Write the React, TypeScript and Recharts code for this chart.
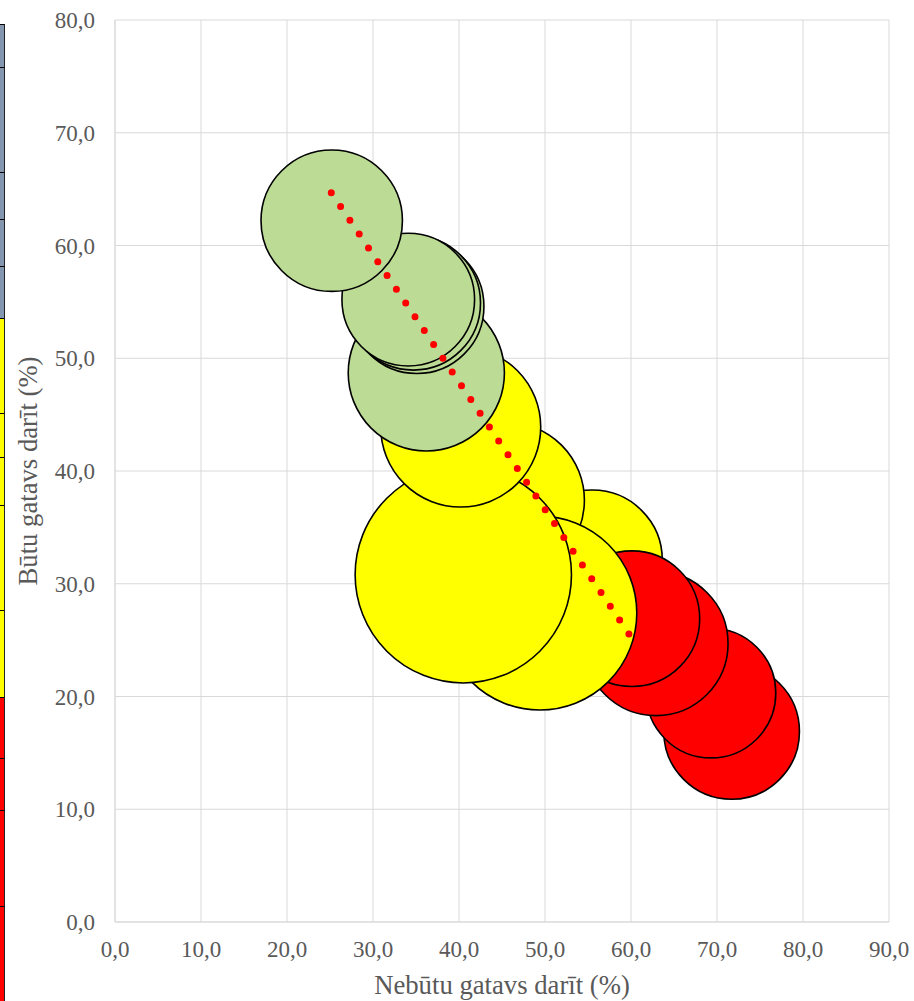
import React from 'react';
import {
  ScatterChart,
  Scatter,
  XAxis,
  YAxis,
  ZAxis,
  CartesianGrid,
  Cell,
} from 'recharts';

// ---- data ----
// draw order: first = bottom, last = on top
const pointX = [71.7, 69.3, 62.9, 55.5, 60.1, 45.5, 49.4, 40.5, 40.2, 36.2, 35.1, 34.7, 34.1, 25.2];
const pointY = [16.9, 20.3, 24.7, 32.1, 26.9, 37.4, 27.4, 30.8, 43.9, 48.7, 54.6, 54.9, 55.2, 62.2];
const pointSize = [46, 42, 52, 49, 46, 61, 94, 117, 64, 61, 45, 45, 44, 50];
const pointGroup = ['R', 'R', 'R', 'Y', 'R', 'Y', 'Y', 'Y', 'Y', 'G', 'G', 'G', 'G', 'G'];

const trendX = [25.15, 59.77];
const trendY = [64.68, 25.54];

const xTicks = [0, 10, 20, 30, 40, 50, 60, 70, 80, 90];
const yTicks = [0, 10, 20, 30, 40, 50, 60, 70, 80];

const xTitle = 'Nebūtu gatavs darīt (%)';
const yTitle = 'Būtu gatavs darīt (%)';

// left strip (fragment of a neighbouring table): row groups
const stripGroups = ['B', 'B', 'B', 'B', 'B', 'Y', 'Y', 'Y', 'Y', 'Y', 'R', 'R', 'R', 'R'];

// ---- styles ----
const groupColor: Record<string, string> = {
  G: '#bcdb95',
  Y: '#ffff00',
  R: '#ff0000',
  B: '#8497b0',
};
const stripRowEdges = [24, 67, 172, 219, 266, 318, 413, 457, 505, 610, 697, 758, 810, 906, 1001];

const FONT = "'Liberation Serif', 'Times New Roman', serif";
const W = 914;
const H = 1001;

const bubbles = pointX.map((x, i) => ({ x, y: pointY[i], z: pointSize[i], g: pointGroup[i] }));
const trend = trendX.map((x, i) => ({ x, y: trendY[i] }));

const fmt = (v: number) => v.toFixed(1).replace('.', ',');

const XTitle = (props: any) => {
  const vb = props.viewBox || {};
  return (
    <text
      x={vb.x + vb.width / 2}
      y={994}
      textAnchor="middle"
      fill="#595959"
      style={{ fontFamily: FONT, fontSize: 26.7 }}
    >
      {xTitle}
    </text>
  );
};

const YTitle = (props: any) => {
  const vb = props.viewBox || {};
  const cx = 37;
  const cy = vb.y + vb.height / 2;
  return (
    <text
      x={cx}
      y={cy}
      transform={`rotate(-90 ${cx} ${cy})`}
      textAnchor="middle"
      fill="#595959"
      style={{ fontFamily: FONT, fontSize: 26.7 }}
    >
      {yTitle}
    </text>
  );
};

export default function App() {
  return (
    <div style={{ position: 'absolute', left: 0, top: 0, width: W, height: H, overflow: 'hidden', background: '#fff' }}>
      {/* strip of a neighbouring table at the left edge */}
      {stripGroups.map((g, i) => (
        <div
          key={i}
          style={{
            position: 'absolute',
            left: 0,
            top: stripRowEdges[i],
            width: 4,
            height: stripRowEdges[i + 1] - stripRowEdges[i] - 1,
            background: groupColor[g],
            borderTop: '1px solid #000',
            borderRight: '1px solid #222',
          }}
        />
      ))}
      <div style={{ position: 'absolute', left: 0, top: 0 }}>
        <ScatterChart width={W} height={H} margin={{ top: 20, right: 25, left: 0, bottom: 0 }}>
          <CartesianGrid stroke="#d9d9d9" strokeWidth={1} />
          <XAxis
            type="number"
            dataKey="x"
            domain={[0, 90]}
            ticks={xTicks}
            interval={0}
            height={79}
            tickFormatter={fmt}
            tickLine={false}
            tickMargin={13}
            axisLine={{ stroke: '#d9d9d9' }}
            tick={{ fill: '#595959', fontSize: 23, fontFamily: FONT }}
            label={<XTitle />}
            allowDataOverflow
          />
          <YAxis
            type="number"
            dataKey="y"
            domain={[0, 80]}
            ticks={yTicks}
            interval={0}
            width={115}
            tickFormatter={fmt}
            tickLine={false}
            tickMargin={14}
            axisLine={{ stroke: '#d9d9d9' }}
            tick={{ fill: '#595959', fontSize: 23, fontFamily: FONT }}
            label={<YTitle />}
            allowDataOverflow
          />
          <ZAxis type="number" dataKey="z" domain={[0, 120]} range={[0, 120 * 100 * Math.PI]} />
          <Scatter data={bubbles} stroke="#000" strokeWidth={1.6} isAnimationActive={false}>
            {bubbles.map((b, i) => (
              <Cell key={i} fill={groupColor[b.g]} />
            ))}
          </Scatter>
          <Scatter
            data={trend}
            fill="#ff0000"
            isAnimationActive={false}
            line={{ stroke: '#ff0000', strokeWidth: 7, strokeDasharray: '0 16.63', strokeLinecap: 'round' }}
            shape={() => <g />}
            legendType="none"
          />
        </ScatterChart>
      </div>
    </div>
  );
}
